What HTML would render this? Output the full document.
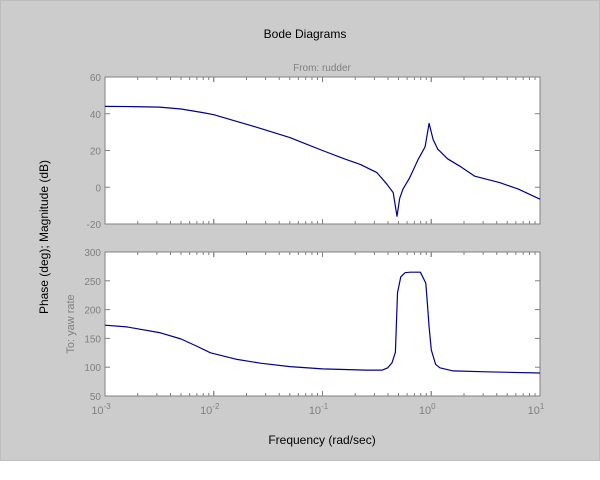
<!DOCTYPE html>
<html><head><meta charset="utf-8"><style>
body{margin:0;background:#fff}
svg{display:block;font-family:"Liberation Sans",sans-serif}
</style></head><body>
<svg id="chart" width="600" height="480">
<rect x="0.5" y="0.5" width="599" height="460" fill="#cccccc" stroke="#bdbdbd"/>
<text x="305" y="38" font-size="12" text-anchor="middle" fill="#000">Bode Diagrams</text>
<text x="322" y="71" font-size="10" text-anchor="middle" fill="#808080">From: rudder</text>
<text transform="translate(48,237) rotate(-90)" font-size="12" text-anchor="middle" fill="#000">Phase (deg); Magnitude (dB)</text>
<text transform="translate(74,324) rotate(-90)" font-size="11" text-anchor="middle" fill="#808080">To: yaw rate</text>
<text x="322" y="444" font-size="12" text-anchor="middle" fill="#000">Frequency (rad/sec)</text>
<g id="mag"></g>
<g id="phase"></g>
</svg>
<script>
const magLogW=[-3,-2.75,-2.5,-2.3,-2.1,-2,-1.8,-1.57,-1.3,-1.15,-1.0,-0.8,-0.655,-0.5,-0.407,-0.35,-0.315,-0.29,-0.26,-0.2,-0.122,-0.057,-0.02,0.017,0.06,0.08,0.15,0.264,0.4,0.632,0.8,1.0];
const magDb=[44,43.9,43.6,42.6,40.6,39.5,36,32,27,23.5,20,15.5,12.5,8,1.6,-2.9,-15.8,-6,-1,5,15,22,34.8,26,20.7,19.6,15.5,11.4,6,2.5,-1,-6.5];
const phLogW=[-3,-2.8,-2.5,-2.3,-2.15,-2.03,-1.8,-1.57,-1.3,-1,-0.6,-0.45,-0.40,-0.36,-0.33,-0.31,-0.28,-0.24,-0.195,-0.1,-0.05,-0.035,-0.02,0,0.04,0.08,0.2,0.5,1.0];
const phDeg=[173,170,160,149,136,125,114,107,101,97,95,95,99,108,126,229,257,264,265,265,246,210,170,130,105,99,93.5,92,90];
const magTicks=[60,40,20,0,-20];
const phTicks=[300,250,200,150,100,50];
const decades=[-3,-2,-1,0,1];

const NS="http://www.w3.org/2000/svg";
const X0=105,X1=540;
const xs=l=>X0+(l+3)/4*(X1-X0);
function mk(tag,attrs,parent,txt){const e=document.createElementNS(NS,tag);for(const k in attrs)e.setAttribute(k,attrs[k]);if(txt!==undefined)e.textContent=txt;parent.appendChild(e);return e;}
function panel(g,top,bot,ymin,ymax,ticks,lx,ly,name,showX){
  const ys=v=>bot-(v-ymin)/(ymax-ymin)*(bot-top);
  const bg=mk('rect',{x:X0,y:top,width:X1-X0,height:bot-top,fill:'#fff'},g);
  
  
  for(const d of decades.slice(0,4)){for(let m=1;m<=10;m++){const x=xs(d+Math.log10(m));const len=(m==1||m==10)?5:3;
    mk('line',{x1:x,x2:x,y1:bot,y2:bot-len,stroke:'#808080'},g);mk('line',{x1:x,x2:x,y1:top,y2:top+len,stroke:'#808080'},g);}}
  for(const t of ticks){const y=ys(t);
    mk('line',{x1:X0,x2:X0+5,y1:y,y2:y,stroke:'#808080'},g);mk('line',{x1:X1,x2:X1-5,y1:y,y2:y,stroke:'#808080'},g);
    const tl=mk('text',{x:X0-4,y:y+4,'font-size':10,'text-anchor':'end',fill:'#808080'},g,String(t));
    
    }
  const fr=mk('rect',{x:X0,y:top,width:X1-X0,height:bot-top,fill:'none',stroke:'#808080'},g);
  
  
  const pts=lx.map((l,i)=>xs(l).toFixed(1)+','+ys(ly[i]).toFixed(1)).join(' ');
  const pl=mk('polyline',{points:pts,fill:'none',stroke:'#00008b','stroke-width':1.2,'stroke-linejoin':'round'},g);
  
  
  if(showX){for(const d of decades){const t=mk('text',{x:xs(d)-4,y:bot+18,'font-size':11,'text-anchor':'middle',fill:'#808080'},g,'10');
    mk('tspan',{dy:-5,'font-size':8},t,String(d));
    
    }}
}
panel(document.getElementById('mag'),77,224,-20,60,magTicks,magLogW,magDb,'magnitude',false);
panel(document.getElementById('phase'),252,396,50,300,phTicks,phLogW,phDeg,'phase',true);
</script>
</body></html>
